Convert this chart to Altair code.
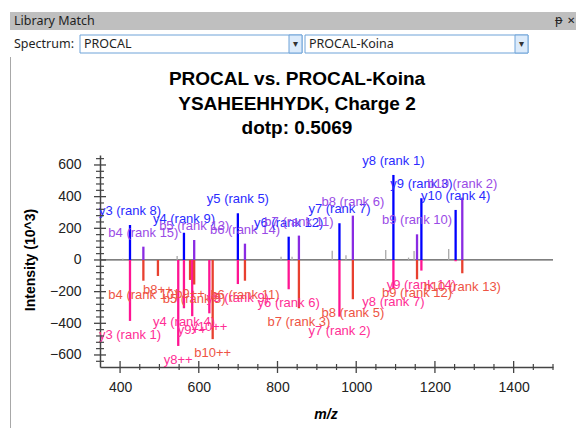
import altair as alt
import pandas as pd

# ---------------- data ----------------
# Library spectrum (PROCAL), drawn upward
top_ions = ["y3", "b4", "y4", "b5", "y5", "b6", "y6", "b7", "y7", "b8", "y8", "b9", "y9", "y10", "b10"]
top_mz = [425.2, 459.2, 562.3, 588.3, 699.3, 717.3, 828.4, 854.4, 957.4, 991.5, 1094.5, 1154.5, 1165.6, 1252.6, 1269.5]
top_intensity = [221, 84, 172, 126, 295, 103, 147, 154, 232, 280, 537, 162, 390, 316, 394]
top_rank = [8, 15, 9, 13, 5, 14, 12, 11, 7, 6, 1, 10, 3, 4, 2]

# unmatched library peaks (grey)
unmatched_mz = [407, 545, 809, 837, 939, 974, 1075, 1133, 1147, 1235]
unmatched_intensity = [8, 25, 20, 20, 59, 30, 63, 15, 57, 70]

# Predicted spectrum (PROCAL-Koina), drawn downward
bottom_ions = ["y3", "b4", "b8++", "y8++", "y4", "b9++", "y9++", "b5", "y10++", "b10++", "y5", "b6",
               "y6", "b7", "y7", "b8", "y8", "b9", "y9", "y10", "b10"]
bottom_mz = [425.2, 459.2, 496.2, 547.8, 562.3, 577.8, 583.3, 588.3, 626.8, 635.3, 699.3, 717.3,
             828.4, 854.4, 957.4, 991.5, 1094.5, 1154.5, 1165.6, 1252.6, 1269.5]
bottom_intensity = [-385, -131, -101, -543, -305, -126, -355, -155, -337, -500, -152, -131,
                    -185, -305, -358, -248, -180, -122, -67, -8, -84]
bottom_rank = [1, 10, 0, 0, 4, 0, 0, 8, 0, 0, 9, 11, 6, 3, 2, 5, 7, 12, 14, 0, 13]

x_major = [400, 600, 800, 1000, 1200, 1400]
x_minor = [450, 500, 550, 650, 700, 750, 850, 900, 950, 1050, 1100, 1150, 1250, 1300, 1350, 1450, 1500]
y_major = [-600, -400, -200, 0, 200, 400, 600]
y_minor = [-640, -560, -520, -480, -440, -360, -320, -280, -240, -160, -120, -80, -40,
           40, 80, 120, 160, 240, 280, 320, 360, 440, 480, 520, 560, 640]

title_lines = ["PROCAL vs. PROCAL-Koina", "YSAHEEHHYDK, Charge 2", "dotp: 0.5069"]

# ---------------- tables ----------------
def series_of(ion, side):
    return side + ("_b" if ion.startswith("b") else "_y")

top_df = pd.DataFrame({
    "mz": top_mz, "intensity": top_intensity,
    "series": [series_of(i, "top") for i in top_ions],
    "label": [f"{i} (rank {r})" for i, r in zip(top_ions, top_rank)],
})
bot_df = pd.DataFrame({
    "mz": bottom_mz, "intensity": bottom_intensity,
    "series": [series_of(i, "bot") for i in bottom_ions],
    "label": [(f"{i} (rank {r})" if r > 0 else ("" if not i.endswith("++") else i)) for i, r in zip(bottom_ions, bottom_rank)],
})
grey_df = pd.DataFrame({"mz": unmatched_mz, "intensity": unmatched_intensity})

W, H = 453, 212
OX, OY = 100, 155  # plot origin in page pixels

FONT = "Liberation Sans"
UI_FONT = "Noto Sans"

xscale = alt.Scale(domain=[349, 1500], nice=False, zero=False)
yscale = alt.Scale(domain=[-676, 663], nice=False, zero=False)

peak_colors = alt.Scale(domain=["top_y", "top_b", "bot_y", "bot_b"],
                        range=["#0000FF", "#8A2BE2", "#FF1493", "#E8402F"])
label_colors = alt.Scale(domain=["top_y", "top_b", "bot_y", "bot_b"],
                         range=["#2B2BFF", "#9A4BE6", "#FF2E95", "#EE5444"])

xaxis = alt.Axis(values=x_major, ticks=False, title=None, grid=False, labelFont=FONT,
                 labelFontSize=14, labelColor="#222222", labelPadding=13, format="d",
                 domainColor="#444444", domainWidth=1.5, labelFlush=False)
yaxis = alt.Axis(values=y_major, ticks=False, title=None, grid=False, labelFont=FONT,
                 labelFontSize=14, labelColor="#222222", labelPadding=19, format="d",
                 domainColor="#444444", domainWidth=1.5)

one = pd.DataFrame({"a": [0]})


def box(x1, x2, y1, y2, fill, stroke=None, sw=1):
    kw = dict(fill=fill)
    if stroke:
        kw.update(stroke=stroke, strokeWidth=sw)
    return alt.Chart(one).mark_rect(**kw).encode(
        x=alt.value(x1 - OX), x2=alt.value(x2 - OX), y=alt.value(y1 - OY), y2=alt.value(y2 - OY))


def txt(s, x, y, size=12, font=UI_FONT, color="#1E1E1E", weight="normal", align="left",
        angle=0, style="normal"):
    return alt.Chart(one).mark_text(text=s, font=font, fontSize=size, color=color, fontWeight=weight,
                                    align=align, baseline="middle", angle=angle, fontStyle=style).encode(
        x=alt.value(x - OX), y=alt.value(y - OY))


# ---------------- window chrome ----------------
chrome = [
    box(10, 576, 12, 30, "#BFBFBF"),
    txt("Library Match", 14, 21, 12.5),
    txt("ᵽ", 555, 20, 12, color="#222222"),
    txt("✕", 567, 21, 10, color="#222222"),
    box(10, 576, 30, 57, "#FFFFFF"),
    txt("Spectrum:", 14, 44, 12.5),
    box(80, 302, 35, 53, "#FFFFFF", "#6FA3D8"),
    box(289, 302, 35, 53, "#DCEBFB", "#6FA3D8"),
    txt("▾", 295.5, 44, 10, color="#333333", align="center"),
    txt("PROCAL", 84, 44, 12.5),
    box(305, 528, 35, 53, "#FFFFFF", "#6FA3D8"),
    box(515, 528, 35, 53, "#DCEBFB", "#6FA3D8"),
    txt("▾", 521.5, 44, 10, color="#333333", align="center"),
    txt("PROCAL-Koina", 309, 44, 12.5),
    alt.Chart(one).mark_rule(color="#A8A8A8", strokeWidth=1).encode(
        x=alt.value(10.5 - OX), y=alt.value(57 - OY), y2=alt.value(428 - OY)),
]

# ---------------- titles ----------------
titles = [
    txt(title_lines[0], 297, 79, 19, font=FONT, color="#000000", weight="bold", align="center"),
    txt(title_lines[1], 297, 104, 19, font=FONT, color="#000000", weight="bold", align="center"),
    txt(title_lines[2], 297, 128, 19, font=FONT, color="#000000", weight="bold", align="center"),
    txt("Intensity (10^3)", 31, 260, 14, font=FONT, color="#000000", weight="bold", align="center", angle=270),
    txt("m/z", 326, 415, 14, font=FONT, color="#000000", weight="bold", align="center", style="italic"),
]

# ---------------- plot ----------------
X = alt.X("mz:Q", scale=xscale, axis=xaxis)
Y = alt.Y("intensity:Q", scale=yscale, axis=yaxis)

zero_line = alt.Chart(pd.DataFrame({"z": [0]})).mark_rule(color="#555555", strokeWidth=1.3).encode(
    y=alt.Y("z:Q", scale=yscale, axis=yaxis), x=alt.value(0), x2=alt.value(W))

grey_peaks = alt.Chart(grey_df).mark_rule(color="#A8A8A8", strokeWidth=1.3).encode(
    x=X, y=Y, y2=alt.datum(0))

top_peaks = alt.Chart(top_df).mark_rule(strokeWidth=2.3).encode(
    x=X, y=Y, y2=alt.datum(0),
    color=alt.Color("series:N", scale=peak_colors, legend=None))

bot_peaks = alt.Chart(bot_df).mark_rule(strokeWidth=2.3).encode(
    x=X, y=Y, y2=alt.datum(0),
    color=alt.Color("series:N", scale=peak_colors, legend=None))

top_labels = alt.Chart(top_df).mark_text(font=FONT, fontSize=13, baseline="middle", dy=-14).encode(
    x=X, y=Y, text="label:N",
    color=alt.Color("series:N", scale=label_colors, legend=None))

bot_labels = alt.Chart(bot_df).mark_text(font=FONT, fontSize=13, baseline="middle", dy=14).encode(
    x=X, y=Y, text="label:N",
    color=alt.Color("series:N", scale=label_colors, legend=None))

# crossing tick marks on the axes
xmaj = alt.Chart(pd.DataFrame({"mz": x_major})).mark_rule(color="#444444", strokeWidth=1.3).encode(
    x=X, y=alt.value(H - 6), y2=alt.value(H + 6))
xmin = alt.Chart(pd.DataFrame({"mz": x_minor})).mark_rule(color="#444444", strokeWidth=1.2).encode(
    x=X, y=alt.value(H - 3), y2=alt.value(H + 3))
ymaj = alt.Chart(pd.DataFrame({"intensity": y_major})).mark_rule(color="#444444", strokeWidth=1.3).encode(
    y=Y, x=alt.value(-6), x2=alt.value(6))
ymin = alt.Chart(pd.DataFrame({"intensity": y_minor})).mark_rule(color="#444444", strokeWidth=1.2).encode(
    y=Y, x=alt.value(-4), x2=alt.value(4))

chart = alt.layer(
    zero_line, grey_peaks, top_peaks, bot_peaks, top_labels, bot_labels,
    xmaj, xmin, ymaj, ymin, *chrome, *titles,
).resolve_scale(color="independent").properties(
    width=W, height=H, autosize="none",
    padding={"left": OX, "top": OY, "right": 576 - OX - W, "bottom": 428 - OY - H},
    background="#FFFFFF",
).configure_view(stroke=None)

chart.save("out.html", embed_options={"renderer": "svg", "actions": False})
